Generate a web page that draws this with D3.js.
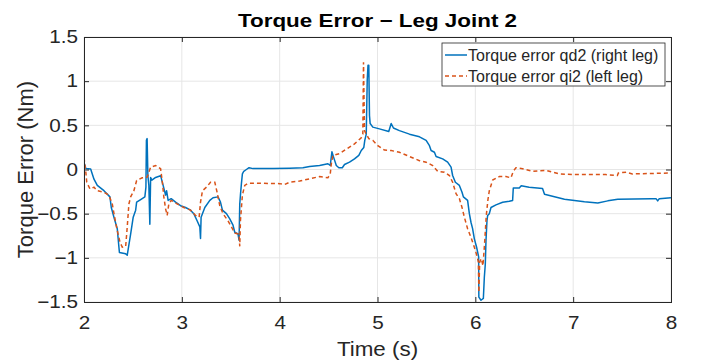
<!DOCTYPE html>
<html>
<head>
<meta charset="utf-8">
<script src="https://cdn.jsdelivr.net/npm/d3@7"></script>
<style>
  body { margin: 0; background: #fff; }
  text { font-family: "Liberation Sans", Arial, Helvetica, sans-serif; fill: #262626; }
</style>
</head>
<body>
<div id="chart"></div>
<script>
// time (s) and torque error (Nm)
var rightT = [2.000, 2.020, 2.068, 2.102, 2.136, 2.204, 2.265, 2.279, 2.306, 2.340, 2.357, 2.362, 2.426, 2.442,
  2.477, 2.503, 2.528, 2.538, 2.579, 2.622, 2.633, 2.638, 2.645, 2.653, 2.663, 2.673, 2.681, 2.694, 2.732, 2.783,
  2.809, 2.834, 2.844, 2.860, 2.891, 2.936, 2.987, 3.038, 3.089, 3.122, 3.156, 3.184, 3.191, 3.197, 3.235, 3.286,
  3.319, 3.370, 3.395, 3.415, 3.456, 3.490, 3.523, 3.541, 3.574, 3.585, 3.592, 3.599, 3.609, 3.619, 3.633, 3.660,
  3.687, 3.728, 3.932, 4.102, 4.238, 4.306, 4.408, 4.493, 4.517, 4.534, 4.551, 4.579, 4.605, 4.640, 4.663, 4.714,
  4.765, 4.809, 4.834, 4.860, 4.870, 4.885, 4.895, 4.903, 4.911, 4.918, 4.925, 4.952, 5.020, 5.115, 5.140, 5.163,
  5.224, 5.327, 5.429, 5.497, 5.531, 5.548, 5.582, 5.599, 5.666, 5.717, 5.752, 5.768, 5.796, 5.837, 5.864, 5.878,
  5.921, 5.939, 5.956, 5.972, 5.990, 6.013, 6.034, 6.036, 6.058, 6.082, 6.092, 6.102, 6.109, 6.119, 6.126, 6.143,
  6.160, 6.211, 6.279, 6.347, 6.381, 6.388, 6.449, 6.469, 6.550, 6.687, 6.707, 6.911, 7.115, 7.252, 7.354, 7.456,
  7.796, 7.847, 7.864, 7.880, 8.000];
var rightV = [0.08, 0.01, 0.005, -0.11, -0.18, -0.24, -0.31, -0.43, -0.54, -0.67, -0.88, -0.94, -0.955, -0.97,
  -0.73, -0.54, -0.46, -0.37, -0.34, -0.31, -0.20, 0.33, 0.35, -0.07, -0.18, -0.62, -0.09, -0.12, -0.09, -0.07,
  -0.18, -0.29, -0.24, -0.35, -0.33, -0.37, -0.41, -0.43, -0.46, -0.50, -0.58, -0.65, -0.78, -0.54, -0.43, -0.35,
  -0.32, -0.31, -0.37, -0.46, -0.50, -0.56, -0.63, -0.71, -0.73, -0.80, -0.39, -0.29, -0.16, -0.05, -0.02, 0.00,
  0.02, 0.01, 0.01, 0.015, 0.02, 0.035, 0.045, 0.065, 0.045, 0.20, 0.14, 0.045, 0.02, 0.02, 0.057, 0.083,
  0.12, 0.16, 0.215, 0.25, 0.33, 0.40, 1.01, 1.18, 1.18, 0.61, 0.52, 0.48, 0.46, 0.43, 0.52, 0.47,
  0.44, 0.40, 0.37, 0.33, 0.27, 0.215, 0.195, 0.147, 0.12, 0.083, 0.026, -0.068, -0.144, -0.18, -0.257, -0.31,
  -0.35, -0.50, -0.60, -0.67, -0.785, -0.88, -0.99, -1.445, -1.48, -1.46, -1.22, -1.07, -0.80, -0.58, -0.52, -0.50,
  -0.43, -0.40, -0.37, -0.36, -0.35, -0.21, -0.21, -0.185, -0.20, -0.215, -0.28, -0.336, -0.366, -0.38, -0.355, -0.336,
  -0.33, -0.33, -0.355, -0.33, -0.32];

var leftT = [2.000, 2.017, 2.028, 2.061, 2.102, 2.136, 2.204, 2.255, 2.289, 2.323, 2.340, 2.367, 2.391, 2.426,
  2.442, 2.459, 2.477, 2.510, 2.538, 2.595, 2.646, 2.681, 2.732, 2.783, 2.799, 2.816, 2.834, 2.850, 2.867, 2.891,
  2.952, 3.020, 3.089, 3.140, 3.177, 3.191, 3.211, 3.252, 3.293, 3.337, 3.360, 3.388, 3.421, 3.472, 3.507, 3.541,
  3.585, 3.592, 3.599, 3.619, 3.643, 3.677, 3.762, 4.000, 4.051, 4.102, 4.204, 4.306, 4.408, 4.493, 4.517, 4.528,
  4.544, 4.612, 4.681, 4.765, 4.834, 4.850, 4.857, 4.867, 4.885, 4.911, 4.952, 5.003, 5.071, 5.140, 5.224, 5.327,
  5.429, 5.497, 5.564, 5.615, 5.684, 5.735, 5.768, 5.803, 5.837, 5.864, 5.888, 5.921, 5.956, 5.990, 6.020, 6.031,
  6.036, 6.044, 6.061, 6.078, 6.095, 6.112, 6.129, 6.143, 6.177, 6.245, 6.313, 6.364, 6.388, 6.415, 6.483, 6.585,
  6.721, 6.857, 6.993, 7.333, 7.452, 7.462, 7.544, 7.605, 8.000];
var leftV = [0.135, -0.01, -0.144, -0.22, -0.20, -0.24, -0.257, -0.29, -0.39, -0.60, -0.69, -0.82, -0.88, -0.87,
  -0.65, -0.39, -0.31, -0.24, -0.125, -0.094, -0.087, 0.026, 0.045, 0.008, -0.125, -0.31, -0.445, -0.52, -0.39, -0.35,
  -0.39, -0.43, -0.46, -0.52, -0.54, -0.37, -0.24, -0.20, -0.144, -0.144, -0.257, -0.41, -0.50, -0.58, -0.65, -0.72,
  -0.73, -0.87, -0.58, -0.29, -0.18, -0.155, -0.155, -0.16, -0.17, -0.144, -0.13, -0.105, -0.08, -0.094, -0.05, 0.065,
  0.16, 0.18, 0.23, 0.29, 0.36, 0.40, 1.215, 0.44, 0.40, 0.35, 0.33, 0.27, 0.22, 0.215, 0.195, 0.147,
  0.10, 0.083, 0.045, -0.02, -0.03, -0.068, -0.144, -0.275, -0.33, -0.43, -0.54, -0.67, -0.77, -0.88, -0.99, -1.05,
  -1.39, -1.05, -1.01, -1.09, -0.83, -0.52, -0.34, -0.24, -0.12, -0.08, -0.08, -0.094, -0.02, 0.02, 0.008, -0.02,
  -0.01, -0.05, -0.057, -0.057, -0.068, -0.04, -0.03, -0.05, -0.04];

var xTicks = [2, 3, 4, 5, 6, 7, 8];
var yTicks = [-1.5, -1, -0.5, 0, 0.5, 1, 1.5];
var seriesNames = ["Torque error qd2 (right leg)", "Torque error qi2 (left leg)"];

var W = 704, H = 364;
var margin = {top: 37, right: 33, bottom: 62, left: 84},
    width = W - margin.left - margin.right,
    height = H - margin.top - margin.bottom;

var x = d3.scaleLinear().domain([2, 8]).range([0, width]);
var y = d3.scaleLinear().domain([-1.5, 1.5]).range([height, 0]);

var svg = d3.select("#chart").append("svg")
    .attr("width", W).attr("height", H);

var g = svg.append("g").attr("transform", "translate(" + margin.left + "," + margin.top + ")");

// grid
g.selectAll(".gx").data(xTicks).enter().append("line")
    .attr("x1", d => x(d)).attr("x2", d => x(d))
    .attr("y1", 0).attr("y2", height)
    .attr("stroke", "#e6e6e6");
g.selectAll(".gy").data(yTicks).enter().append("line")
    .attr("x1", 0).attr("x2", width)
    .attr("y1", d => y(d)).attr("y2", d => y(d))
    .attr("stroke", "#e6e6e6");

// clip for data lines
svg.append("defs").append("clipPath").attr("id", "clip")
  .append("rect").attr("width", width).attr("height", height);

var line = d3.line().x(d => x(d[0])).y(d => y(d[1]));
var rightData = rightT.map((t, i) => [t, rightV[i]]);
var leftData = leftT.map((t, i) => [t, leftV[i]]);

var lines = g.append("g").attr("clip-path", "url(#clip)");
lines.append("path").datum(rightData)
    .attr("d", line).attr("fill", "none")
    .attr("stroke", "#0072BD").attr("stroke-width", 1.5)
    .attr("stroke-linejoin", "round");
lines.append("path").datum(leftData)
    .attr("d", line).attr("fill", "none")
    .attr("stroke", "#D95319").attr("stroke-width", 1.5)
    .attr("stroke-dasharray", "4,3");

// axes (box with inward ticks on all sides)
var axisCol = "#262626";
var sx = 1.15; // reference glyphs are a bit wider than Liberation Sans
function styleAxis(sel) {
  sel.select(".domain").remove();
  sel.selectAll(".tick line").attr("stroke", axisCol);
  sel.selectAll(".tick text").style("font-size", "18px").attr("fill", axisCol);
}
g.append("g").attr("transform", "translate(0," + height + ")")
    .call(d3.axisBottom(x).tickValues(xTicks).tickSizeInner(-5).tickPadding(14).tickFormat(d3.format("d")))
    .call(styleAxis)
    .selectAll(".tick text").each(function() {
      var t = d3.select(this), yy = +t.attr("y");
      t.attr("y", 0).attr("transform", "translate(0," + yy + ") scale(" + sx + ",1)");
    });
g.append("g")
    .call(d3.axisLeft(y).tickValues(yTicks).tickSizeInner(-5).tickPadding(6).tickFormat(d3.format("")))
    .call(styleAxis)
    .selectAll(".tick text").each(function() {
      var t = d3.select(this), xx = +t.attr("x");
      t.attr("x", 0).attr("transform", "translate(" + xx + ",0) scale(" + sx + ",1)");
    });
g.append("g")
    .call(d3.axisTop(x).tickValues(xTicks).tickSizeInner(-5).tickFormat(""))
    .call(styleAxis);
g.append("g").attr("transform", "translate(" + width + ",0)")
    .call(d3.axisRight(y).tickValues(yTicks).tickSizeInner(-5).tickFormat(""))
    .call(styleAxis);
g.append("rect").attr("width", width).attr("height", height)
    .attr("fill", "none").attr("stroke", axisCol).attr("stroke-width", 1).attr("shape-rendering", "crispEdges");

// labels
svg.append("text")
    .attr("transform", "translate(" + (margin.left + width / 2) + ",27) scale(1.18,1)")
    .attr("text-anchor", "middle").style("font-size", "19px").style("font-weight", "bold")
    .style("fill", "#000").text("Torque Error \u2212 Leg Joint 2");
svg.append("text")
    .attr("transform", "translate(" + (margin.left + width / 2) + ",356) scale(1.12,1)")
    .attr("text-anchor", "middle").style("font-size", "20px").text("Time (s)");
svg.append("text").attr("transform", "translate(33," + (margin.top + height / 2) + ") rotate(-90)")
    .attr("text-anchor", "middle").style("font-size", "22px").text("Torque Error (Nm)");

// legend
var lg = svg.append("g").attr("transform", "translate(442,43)");
lg.append("rect").attr("width", 223).attr("height", 43)
    .attr("fill", "#fff").attr("stroke", axisCol).attr("stroke-width", 0.8);
var colors = ["#0072BD", "#D95319"];
seriesNames.forEach(function(name, i) {
  var yy = 12 + i * 21;
  lg.append("line").attr("x1", 3).attr("x2", 25).attr("y1", yy).attr("y2", yy)
      .attr("stroke", colors[i]).attr("stroke-width", 1.5)
      .attr("stroke-dasharray", i === 1 ? "4,3" : null);
  lg.append("text").attr("x", 26).attr("y", yy + 5.5)
      .style("font-size", "16px").text(name);
});
</script>
</body>
</html>
